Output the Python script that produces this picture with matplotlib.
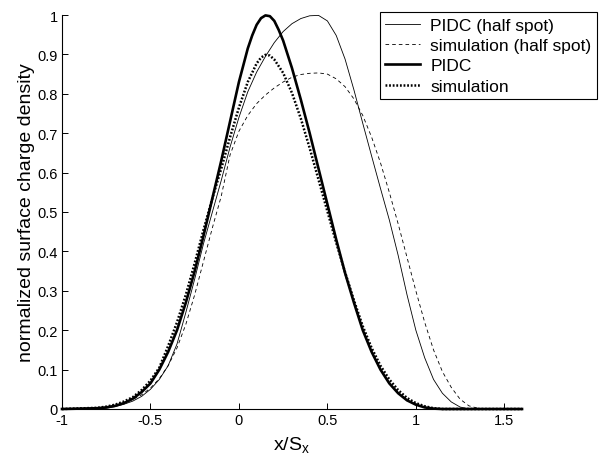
import matplotlib
matplotlib.use("Agg")
import matplotlib.pyplot as plt

plt.rcParams['font.family'] = ['Liberation Sans', 'DejaVu Sans']
plt.rcParams['mathtext.fontset'] = 'custom'
plt.rcParams['mathtext.rm'] = 'Liberation Sans'
plt.rcParams['mathtext.it'] = 'Liberation Sans'
plt.rcParams['axes.unicode_minus'] = False
plt.rcParams['lines.scale_dashes'] = False

# ---- data ----
x_pidc_half = [-1.0, -0.8, -0.75, -0.7, -0.65, -0.6, -0.55, -0.5, -0.45, -0.4, -0.35, -0.3, -0.25, -0.2, -0.15,
               -0.1, -0.05, 0.0, 0.05, 0.1, 0.15, 0.2, 0.25, 0.3, 0.35, 0.4, 0.45, 0.5, 0.55, 0.6, 0.65,
               0.7, 0.75, 0.8, 0.85, 0.9, 0.95, 1.0, 1.05, 1.1, 1.15, 1.2, 1.25, 1.3, 1.6]
y_pidc_half = [0.0, 0.0, 0.002, 0.006, 0.012, 0.02, 0.032, 0.05, 0.075, 0.11, 0.165, 0.245, 0.33, 0.42, 0.5,
               0.58, 0.665, 0.74, 0.805, 0.855, 0.895, 0.93, 0.958, 0.978, 0.991, 0.998, 0.999, 0.985, 0.948, 0.888, 0.81,
               0.725, 0.642, 0.56, 0.48, 0.39, 0.29, 0.2, 0.13, 0.075, 0.04, 0.018, 0.005, 0.0, 0.0]

x_sim_half = [-1.0, -0.8, -0.75, -0.7, -0.65, -0.6, -0.55, -0.5, -0.45, -0.4, -0.35, -0.3, -0.25, -0.2, -0.15,
              -0.1, -0.05, 0.0, 0.05, 0.1, 0.15, 0.2, 0.25, 0.3, 0.35, 0.4, 0.45, 0.5, 0.55, 0.6, 0.65,
              0.7, 0.75, 0.8, 0.85, 0.9, 0.95, 1.0, 1.05, 1.1, 1.15, 1.2, 1.25, 1.3, 1.35, 1.4, 1.6]
y_sim_half = [0.0, 0.002, 0.005, 0.009, 0.015, 0.024, 0.036, 0.053, 0.077, 0.11, 0.155, 0.215, 0.29, 0.375, 0.46,
              0.54, 0.645, 0.705, 0.745, 0.775, 0.797, 0.815, 0.83, 0.842, 0.849, 0.852, 0.853, 0.85, 0.838, 0.818, 0.787,
              0.745, 0.69, 0.625, 0.55, 0.47, 0.385, 0.3, 0.22, 0.15, 0.095, 0.055, 0.025, 0.008, 0.002, 0.0, 0.0]

x_pidc = [-1.0, -0.8, -0.75, -0.7, -0.65, -0.6, -0.55, -0.5, -0.45, -0.4, -0.35, -0.3, -0.25, -0.2, -0.15,
          -0.1, -0.05, 0.0, 0.05, 0.075, 0.1, 0.125, 0.15, 0.175, 0.2, 0.225, 0.25, 0.3, 0.35, 0.4, 0.45,
          0.5, 0.55, 0.6, 0.65, 0.7, 0.75, 0.8, 0.85, 0.9, 0.95, 1.0, 1.05, 1.1, 1.15, 1.6]
y_pidc = [0.0, 0.002, 0.004, 0.008, 0.015, 0.026, 0.043, 0.065, 0.1, 0.145, 0.2, 0.27, 0.35, 0.44, 0.535,
          0.63, 0.73, 0.83, 0.915, 0.948, 0.975, 0.992, 0.999, 0.997, 0.985, 0.962, 0.935, 0.865, 0.785, 0.7, 0.61,
          0.52, 0.43, 0.345, 0.27, 0.2, 0.145, 0.1, 0.065, 0.04, 0.022, 0.011, 0.004, 0.001, 0.0, 0.0]

x_sim = [-1.0, -0.8, -0.75, -0.7, -0.65, -0.6, -0.55, -0.5, -0.45, -0.4, -0.35, -0.3, -0.25, -0.2, -0.15,
         -0.1, -0.05, 0.0, 0.05, 0.1, 0.125, 0.15, 0.175, 0.2, 0.25, 0.3, 0.35, 0.4, 0.45, 0.5, 0.55,
         0.6, 0.65, 0.7, 0.75, 0.8, 0.85, 0.9, 0.95, 1.0, 1.05, 1.1, 1.15, 1.6]
y_sim = [0.0, 0.003, 0.006, 0.011, 0.019, 0.03, 0.048, 0.072, 0.105, 0.16, 0.22, 0.29, 0.37, 0.455, 0.535,
         0.61, 0.69, 0.765, 0.83, 0.877, 0.892, 0.899, 0.897, 0.887, 0.853, 0.802, 0.737, 0.662, 0.582, 0.502, 0.422,
         0.347, 0.276, 0.21, 0.155, 0.11, 0.075, 0.048, 0.028, 0.015, 0.007, 0.002, 0.0, 0.0]

labels = ['PIDC (half spot)', 'simulation (half spot)', 'PIDC', 'simulation']
x_ticks = [-1, -0.5, 0, 0.5, 1, 1.5]
x_ticklabels = ['-1', '-0.5', '0', '0.5', '1', '1.5']
y_ticks = [0, 0.1, 0.2, 0.3, 0.4, 0.5, 0.6, 0.7, 0.8, 0.9, 1]
y_ticklabels = ['0', '0.1', '0.2', '0.3', '0.4', '0.5', '0.6', '0.7', '0.8', '0.9', '1']

fig = plt.figure(figsize=(6.10, 4.56), dpi=100)
ax = fig.add_axes([62 / 610, 46 / 456, 460 / 610, 394 / 456])

ax.plot(x_pidc_half, y_pidc_half, color='black', lw=0.6, label=labels[0], clip_on=False)
ax.plot(x_sim_half, y_sim_half, color='black', lw=0.6, linestyle=(0, (2.6, 2.2)), label=labels[1], clip_on=False)
ax.plot(x_pidc, y_pidc, color='black', lw=1.9, label=labels[2], clip_on=False)
ax.plot(x_sim, y_sim, color='black', lw=1.8, linestyle=(0, (1.3, 1.3)), label=labels[3], clip_on=False)

ax.set_xlim(-1, 1.6)
ax.set_ylim(0, 1)
ax.set_xticks(x_ticks)
ax.set_xticklabels(x_ticklabels)
ax.set_yticks(y_ticks)
ax.set_yticklabels(y_ticklabels)
ax.tick_params(direction='in', length=4, width=0.7, labelsize=10.5, pad=3, colors='black')
ax.spines['top'].set_visible(False)
ax.spines['right'].set_visible(False)
for s in ('left', 'bottom'):
    ax.spines[s].set_linewidth(0.8)
    ax.spines[s].set_color('black')

ax.set_ylabel('normalized surface charge density', fontsize=14, labelpad=2)
ax.set_xlabel(r'x/S$_\mathrm{x}$', fontsize=14, labelpad=5)

leg = ax.legend(loc='upper right', bbox_to_anchor=(597 / 610, 1 - 13 / 456), bbox_transform=fig.transFigure,
                borderaxespad=0, fancybox=False, edgecolor='black', framealpha=1, fontsize=12.5,
                handlelength=2.0, handletextpad=0.6, labelspacing=0.3, borderpad=0.32)
leg.get_frame().set_linewidth(0.8)

fig.savefig('out.png', dpi=100)
